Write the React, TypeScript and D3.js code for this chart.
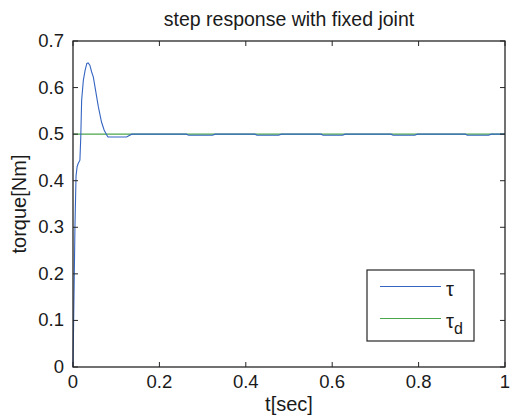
import * as d3 from "d3";

// step response samples
const timeSec = [
  0, 0.0015, 0.003, 0.0045, 0.007, 0.0095, 0.012, 0.016, 0.018, 0.02,
  0.024, 0.028, 0.032, 0.035, 0.039, 0.043, 0.047, 0.051, 0.0586, 0.066,
  0.072, 0.078, 0.081, 0.124, 0.136,
  0.262, 0.268, 0.323, 0.329,
  0.421, 0.426, 0.476, 0.482,
  0.574, 0.579, 0.624, 0.63,
  0.736, 0.741, 0.791, 0.797,
  0.908, 0.913, 0.962, 0.968, 1.0,
];
const tau = [
  0, 0.1, 0.2, 0.3, 0.41, 0.43, 0.437, 0.444, 0.494, 0.573,
  0.616, 0.637, 0.652, 0.653, 0.648, 0.634, 0.623, 0.601, 0.559, 0.526,
  0.509, 0.498, 0.494, 0.494, 0.5,
  0.5, 0.4975, 0.4975, 0.5,
  0.5, 0.4975, 0.4975, 0.5,
  0.5, 0.4975, 0.4975, 0.5,
  0.5, 0.4975, 0.4975, 0.5,
  0.5, 0.4975, 0.4975, 0.5, 0.5,
];
const refTime = [0, 1];
const tauD = [0.5, 0.5];

const xTicks = [0, 0.2, 0.4, 0.6, 0.8, 1];
const yTicks = [0, 0.1, 0.2, 0.3, 0.4, 0.5, 0.6, 0.7];

const W = 514;
const H = 418;
const margin = { top: 41, right: 9, bottom: 51, left: 73 };
const font = "'Liberation Sans', Arial, sans-serif";

export default function App() {
  const x = d3.scaleLinear().domain([0, 1]).range([margin.left, W - margin.right]);
  const y = d3.scaleLinear().domain([0, 0.7]).range([H - margin.bottom, margin.top]);

  const tauPts = timeSec.map((t, i) => [t, tau[i]] as [number, number]);
  const refPts = refTime.map((t, i) => [t, tauD[i]] as [number, number]);
  const lineGen = d3
    .line<[number, number]>()
    .x((d) => x(d[0]))
    .y((d) => y(d[1]));

  const x0 = x(0), x1 = x(1), y0 = y(0), y1 = y(0.7);
  const tl = 5;
  const axisColor = "#262626";

  const lg = { x: 367, y: 270, w: 107, h: 71 };

  return (
    <svg
      width={W}
      height={H}
      style={{ position: "absolute", left: 0, top: 0, background: "#fff" }}
    >
      <rect x={0} y={0} width={W} height={H} fill="#fff" />
      <text
        x={(x0 + x1) / 2}
        y={26}
        textAnchor="middle"
        fontFamily={font}
        fontSize={19.5}
        fill="#1a1a1a"
      >
        step response with fixed joint
      </text>

      <path d={lineGen(refPts) ?? ""} fill="none" stroke="#4aa64a" strokeWidth={1.1} />
      <path d={lineGen(tauPts) ?? ""} fill="none" stroke="#3565c2" strokeWidth={1.1} />

      <g stroke={axisColor} strokeWidth={1}>
        {xTicks.map((t) => (
          <g key={"xt" + t}>
            <line x1={x(t)} x2={x(t)} y1={y0} y2={y0 - tl} />
            <line x1={x(t)} x2={x(t)} y1={y1} y2={y1 + tl} />
          </g>
        ))}
        {yTicks.map((t) => (
          <g key={"yt" + t}>
            <line x1={x0} x2={x0 + tl} y1={y(t)} y2={y(t)} />
            <line x1={x1} x2={x1 - tl} y1={y(t)} y2={y(t)} />
          </g>
        ))}
        <rect x={x0} y={y1} width={x1 - x0} height={y0 - y1} fill="none" strokeWidth={1.3} />
      </g>

      <g fontFamily={font} fontSize={18.5} fill="#1a1a1a">
        {xTicks.map((t) => (
          <text key={"xl" + t} x={x(t)} y={y0 + 21} textAnchor="middle">
            {d3.format("~g")(t)}
          </text>
        ))}
        {yTicks.map((t) => (
          <text key={"yl" + t} x={x0 - 9} y={y(t) + 6} textAnchor="end">
            {d3.format("~g")(t)}
          </text>
        ))}
      </g>
      <g fontFamily={font} fontSize={20} fill="#1a1a1a">
        <text x={(x0 + x1) / 2} y={411} textAnchor="middle">
          t[sec]
        </text>
        <text
          transform={`translate(26,${(y0 + y1) / 2}) rotate(-90)`}
          textAnchor="middle"
        >
          torque[Nm]
        </text>
      </g>

      <g>
        <rect x={lg.x} y={lg.y} width={lg.w} height={lg.h} fill="#fff" stroke={axisColor} strokeWidth={1.2} />
        <line x1={380} x2={441} y1={286.5} y2={286.5} stroke="#3565c2" strokeWidth={1.1} />
        <line x1={380} x2={441} y1={318.5} y2={318.5} stroke="#4aa64a" strokeWidth={1.1} />
        <text x={446} y={296} fontFamily={font} fontSize={20} fill="#1a1a1a">
          τ
        </text>
        <text x={446} y={328} fontFamily={font} fontSize={20} fill="#1a1a1a">
          τ<tspan dy={6} fontSize={16}>d</tspan>
        </text>
      </g>
    </svg>
  );
}
